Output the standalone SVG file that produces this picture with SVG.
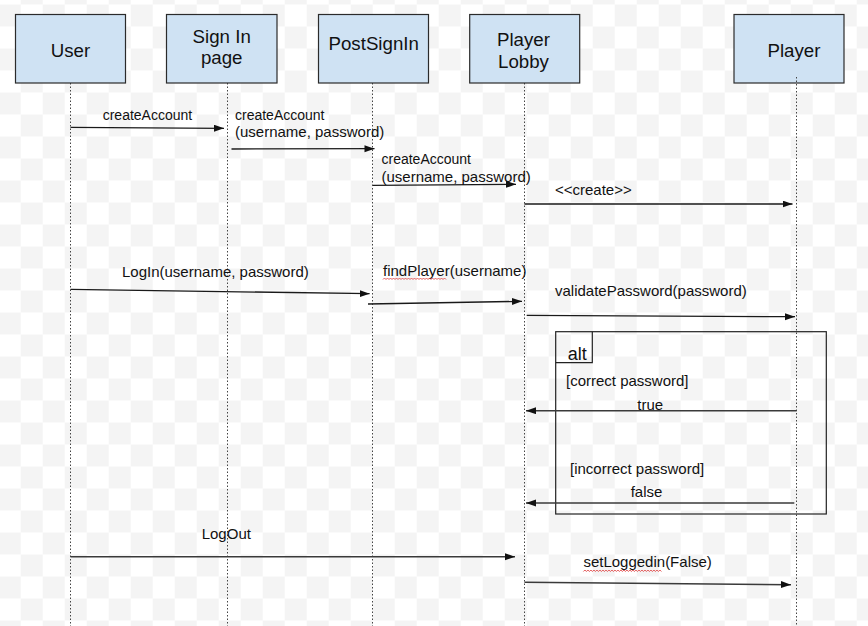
<svg xmlns="http://www.w3.org/2000/svg" width="868" height="626" viewBox="0 0 868 626">
  <style>
    .box { fill: #cfe2f3; stroke: #2b2b2b; stroke-width: 1.2; }
    .btxt { font-family: "Liberation Sans", Arial, sans-serif; font-size: 18.7px; fill: #111; text-anchor: middle; }
    .life { stroke: #444; stroke-width: 1; stroke-dasharray: 1.5 2; fill: none; }
    .msg { stroke: #1a1a1a; stroke-width: 1.3; fill: none; marker-end: url(#arrow); }
    .ret { stroke: #3a3a3a; stroke-width: 1.5; fill: none; marker-end: url(#arrow); }
    .lbl { font-family: "Liberation Sans", Arial, sans-serif; font-size: 15px; fill: #111; }
    .s14 { font-size: 14px; }
    .frame { fill: none; stroke: #222; stroke-width: 1.2; }
    .wave { fill: none; stroke: #e04848; stroke-width: 0.9; }
  </style>
  <defs>
    <pattern id="checker" patternUnits="userSpaceOnUse" x="-1.3" y="4.5" width="44" height="44">
      <rect x="0" y="0" width="22" height="22" fill="#f4f4f4"/>
      <rect x="22" y="22" width="22" height="22" fill="#f4f4f4"/>
    </pattern>
    <marker id="arrow" markerUnits="userSpaceOnUse" markerWidth="11" markerHeight="8" refX="10" refY="3.5" orient="auto">
      <path d="M0,0 L10,3.5 L0,7 z" fill="#111"/>
    </marker>
  </defs>

  <rect x="0" y="0" width="868" height="626" fill="#ffffff"/>
  <rect x="0" y="0" width="868" height="626" fill="url(#checker)"/>

  <g id="lifelines">
    <line class="life" x1="70.5" y1="83" x2="70.5" y2="626"/>
    <line class="life" x1="227.5" y1="83" x2="227.5" y2="626"/>
    <line class="life" x1="372.5" y1="83" x2="372.5" y2="626"/>
    <line class="life" x1="524.5" y1="83" x2="524.5" y2="626"/>
  </g>

  <g id="node-user">
    <rect class="box" x="15.5" y="14.5" width="110" height="68.5"/>
    <text class="btxt" x="70.5" y="56.5">User</text>
  </g>
  <g id="node-signin">
    <rect class="box" x="166.5" y="14.5" width="110.5" height="68.5"/>
    <text class="btxt" x="221.7" y="43">Sign In</text>
    <text class="btxt" x="221.7" y="64.3">page</text>
  </g>
  <g id="node-postsignin">
    <rect class="box" x="318.5" y="14.5" width="110" height="68.5"/>
    <text class="btxt" x="373.7" y="49.7">PostSignIn</text>
  </g>
  <g id="node-playerlobby">
    <rect class="box" x="469.7" y="14.5" width="110" height="68.5"/>
    <text class="btxt" x="523.5" y="46">Player</text>
    <text class="btxt" x="523.5" y="68.3">Lobby</text>
  </g>
  <g id="node-player">
    <rect class="box" x="734" y="14.5" width="110" height="68.5"/>
    <text class="btxt" x="794" y="56.5">Player</text>
  </g>
  <line class="life" x1="796.5" y1="77" x2="796.5" y2="626"/>

  <g id="alt-frame">
    <rect class="frame" x="555.7" y="331.7" width="270.6" height="182.3"/>
    <path class="frame" d="M555.7,362.7 H592.3 V331.7"/>
    <text class="lbl" x="567.7" y="360" style="font-size:18px">alt</text>
    <text class="lbl" x="566" y="386">[correct password]</text>
    <text class="lbl" x="570" y="474">[incorrect password]</text>
  </g>

  <g id="connectors">
    <line class="msg" x1="70.5" y1="127.3" x2="224" y2="128.3"/>
    <line class="msg" x1="231.5" y1="149" x2="374.5" y2="148.7"/>
    <line class="msg" x1="373" y1="185.3" x2="516" y2="184.3"/>
    <line class="msg" x1="524.5" y1="204" x2="792.5" y2="204"/>
    <line class="msg" x1="70.5" y1="289.3" x2="369.6" y2="293.7"/>
    <line class="msg" x1="368" y1="304" x2="522" y2="301.3"/>
    <line class="msg" x1="526.7" y1="315.3" x2="795" y2="316.7"/>
    <line class="ret" x1="796.7" y1="410.7" x2="526" y2="410.7"/>
    <line class="ret" x1="794.3" y1="503" x2="526" y2="503"/>
    <line class="ret" x1="70.5" y1="556.7" x2="515" y2="556.7"/>
    <line class="ret" x1="524.5" y1="582.3" x2="791" y2="584.7"/>
  </g>

  <g id="labels">
    <text class="lbl s14" x="102.7" y="120">createAccount</text>
    <text class="lbl s14" x="235" y="119.5">createAccount</text>
    <text class="lbl" x="235" y="136.5">(username, password)</text>
    <text class="lbl s14" x="381.5" y="164.3">createAccount</text>
    <text class="lbl" x="381.5" y="182.3">(username, password)</text>
    <text class="lbl" x="555" y="195">&lt;&lt;create&gt;&gt;</text>
    <text class="lbl" x="122" y="276.5">LogIn(username, password)</text>
    <text class="lbl" x="383" y="276">findPlayer(username)</text>
    <path class="wave" d="M383,279.5 l1.5,-1.5 l1.5,1.5 l1.5,-1.5 l1.5,1.5 l1.5,-1.5 l1.5,1.5 l1.5,-1.5 l1.5,1.5 l1.5,-1.5 l1.5,1.5 l1.5,-1.5 l1.5,1.5 l1.5,-1.5 l1.5,1.5 l1.5,-1.5 l1.5,1.5 l1.5,-1.5 l1.5,1.5 l1.5,-1.5 l1.5,1.5 l1.5,-1.5 l1.5,1.5 l1.5,-1.5 l1.5,1.5 l1.5,-1.5 l1.5,1.5 l1.5,-1.5 l1.5,1.5 l1.5,-1.5 l1.5,1.5 l1.5,-1.5 l1.5,1.5 l1.5,-1.5 l1.5,1.5 l1.5,-1.5 l1.5,1.5 l1.5,-1.5 l1.5,1.5 l1.5,-1.5 l1.5,1.5 l1.5,-1.5 l1.5,1.5"/>
    <text class="lbl" x="555" y="296">validatePassword(password)</text>
    <text class="lbl" x="637.3" y="410">true</text>
    <text class="lbl" x="630.7" y="497.3">false</text>
    <text class="lbl" x="201.7" y="539.3">LogOut</text>
    <text class="lbl" x="583.4" y="567.3">setLoggedin(False)</text>
    <path class="wave" d="M583.4,571.5 l1.5,-1.5 l1.5,1.5 l1.5,-1.5 l1.5,1.5 l1.5,-1.5 l1.5,1.5 l1.5,-1.5 l1.5,1.5 l1.5,-1.5 l1.5,1.5 l1.5,-1.5 l1.5,1.5 l1.5,-1.5 l1.5,1.5 l1.5,-1.5 l1.5,1.5 l1.5,-1.5 l1.5,1.5 l1.5,-1.5 l1.5,1.5 l1.5,-1.5 l1.5,1.5 l1.5,-1.5 l1.5,1.5 l1.5,-1.5 l1.5,1.5 l1.5,-1.5 l1.5,1.5 l1.5,-1.5 l1.5,1.5 l1.5,-1.5 l1.5,1.5 l1.5,-1.5 l1.5,1.5 l1.5,-1.5 l1.5,1.5 l1.5,-1.5 l1.5,1.5 l1.5,-1.5 l1.5,1.5 l1.5,-1.5 l1.5,1.5 l1.5,-1.5 l1.5,1.5 l1.5,-1.5 l1.5,1.5 l1.5,-1.5 l1.5,1.5 l1.5,-1.5 l1.5,1.5 l1.5,-1.5 l1.5,1.5"/>
  </g>
</svg>
